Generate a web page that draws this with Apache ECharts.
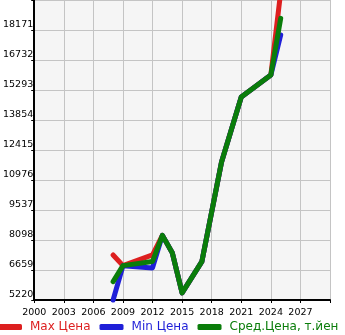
<!DOCTYPE html>
<html><head><meta charset="utf-8">
<script src="https://cdn.jsdelivr.net/npm/echarts@6/dist/echarts.min.js"></script>
<style>html,body{margin:0;padding:0;background:#fff}#c{width:345px;height:335px}</style>
</head><body><div id="c"></div>
<script>
const years = [2008, 2009, 2012, 2013, 2014, 2015, 2017, 2019, 2021, 2024, 2025];
const maxPrice = [7380, 6870, 7380, 8320, 7490, 5560, 7060, 11840, 14960, 16010, 20000];
const minPrice = [5220, 6860, 6760, 8320, 7490, 5560, 7060, 11840, 14960, 16010, 17930];
const avgPrice = [6100, 6870, 7070, 8320, 7490, 5560, 7060, 11840, 14960, 16010, 18730];
const yTicks = [5220, 6659, 8098, 9537, 10976, 12415, 13854, 15293, 16732, 18171, 19610];
const yLabels = [5220, 6659, 8098, 9537, 10976, 12415, 13854, 15293, 16732, 18171];
const xTicks = [2000, 2003, 2006, 2009, 2012, 2015, 2018, 2021, 2024, 2027, 2030];
const xLabels = [2000, 2003, 2006, 2009, 2012, 2015, 2018, 2021, 2024, 2027];
const names = ['Max Цена', 'Min Цена', 'Сред.Цена, т.йен'];
const colors = ['#dd1f1f', '#1f1fd8', '#0a7d0a'];

const pairs = arr => years.map((y, i) => [y, arr[i]]);
const chart = echarts.init(document.getElementById('c'), null, {renderer: 'canvas'});
const font = 'DejaVu Sans';
chart.setOption({
  animation: false,
  color: colors,
  grid: {left: 31, right: 15, top: 0, bottom: 35, show: true, backgroundColor: '#f5f5f5', borderWidth: 0},
  xAxis: {
    type: 'value', min: 2000, max: 2030,
    axisLine: {show: true, onZero: false, lineStyle: {color: '#000', width: 2}},
    axisTick: {show: true, length: 3, customValues: xTicks, lineStyle: {color: '#000', width: 1}},
    axisLabel: {customValues: xLabels, color: '#000', fontFamily: font, fontSize: 9.5, margin: 8, formatter: v => String(v)},
    splitLine: {show: true, lineStyle: {color: '#c4c4c4', width: 1}}
  },
  yAxis: {
    type: 'value', min: 5220, max: 19610,
    axisLine: {show: true, onZero: false, lineStyle: {color: '#000', width: 2}},
    axisTick: {show: true, length: 3, customValues: yTicks, lineStyle: {color: '#000', width: 1}},
    axisLabel: {customValues: yLabels, color: '#000', fontFamily: font, fontSize: 9.5, margin: 1, verticalAlign: 'bottom', formatter: v => String(v)},
    splitLine: {show: true, lineStyle: {color: '#c4c4c4', width: 1}}
  },
  legend: {
    left: -2, top: 321, padding: 0, itemGap: 9,
    itemWidth: 24, itemHeight: 6, icon: 'roundRect',
    textStyle: {fontFamily: font, fontSize: 12, padding: [0, 0, 0, 3]},
    data: names.map((n, i) => ({name: n, textStyle: {color: colors[i]}}))
  },
  series: [maxPrice, minPrice, avgPrice].map((arr, i) => ({
    name: names[i], type: 'line', data: pairs(arr), showSymbol: false, symbol: 'none',
    lineStyle: {width: 5, color: colors[i], cap: 'round', join: 'round'},
    itemStyle: {color: colors[i]}, clip: false, z: 2 + i
  }))
});
</script></body></html>
